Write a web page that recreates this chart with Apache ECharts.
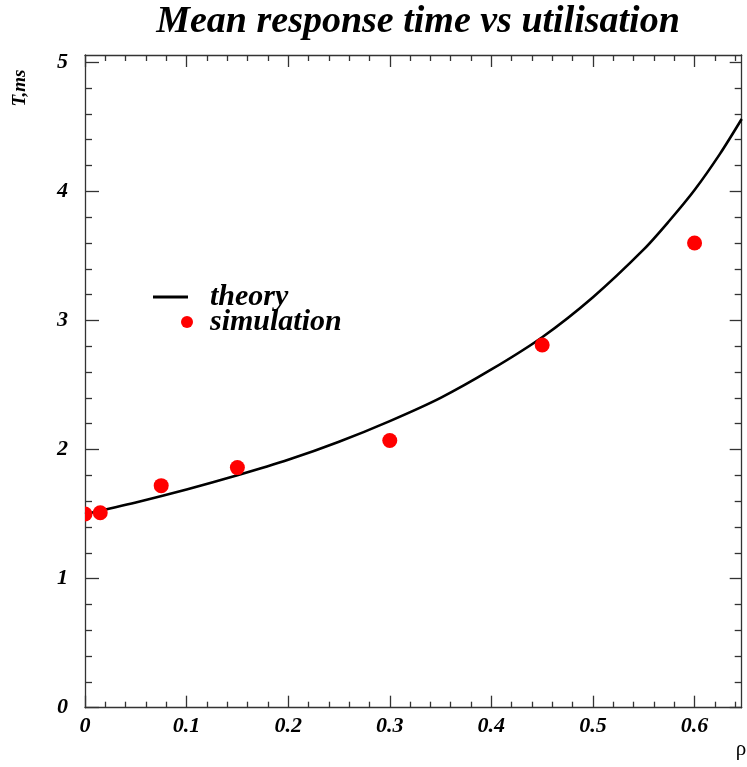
<!DOCTYPE html>
<html>
<head>
<meta charset="utf-8">
<script src="https://cdn.jsdelivr.net/npm/echarts@6/dist/echarts.min.js"></script>
<style>
html,body{margin:0;padding:0;background:#fff;}
#chart{width:747px;height:767px;}
</style>
</head>
<body>
<div id="chart"></div>
<script>
// ---- data ----
const theoryRho = [0, 0.05, 0.10, 0.15, 0.20, 0.25, 0.30, 0.35, 0.40, 0.45, 0.50, 0.55, 0.575, 0.60, 0.625, 0.6464];
const theoryT   = [1.50, 1.59, 1.69, 1.80, 1.92, 2.06, 2.22, 2.40, 2.62, 2.87, 3.18, 3.55, 3.77, 4.01, 4.29, 4.56];

const simRho = [0, 0.015, 0.075, 0.15, 0.30, 0.45, 0.60];
const simT   = [1.50, 1.51, 1.72, 1.86, 2.07, 2.81, 3.60];

const xMajorTicks = [0, 0.1, 0.2, 0.3, 0.4, 0.5, 0.6];
const xTickLabels = ['0', '0.1', '0.2', '0.3', '0.4', '0.5', '0.6'];
const xMinorTicks = [0.02, 0.04, 0.06, 0.08, 0.12, 0.14, 0.16, 0.18, 0.22, 0.24, 0.26, 0.28,
                     0.32, 0.34, 0.36, 0.38, 0.42, 0.44, 0.46, 0.48, 0.52, 0.54, 0.56, 0.58, 0.62, 0.64];
const yMajorTicks = [0, 1, 2, 3, 4, 5];
const yTickLabels = ['0', '1', '2', '3', '4', '5'];
const yMinorTicks = [0.2, 0.4, 0.6, 0.8, 1.2, 1.4, 1.6, 1.8, 2.2, 2.4, 2.6, 2.8,
                     3.2, 3.4, 3.6, 3.8, 4.2, 4.4, 4.6, 4.8];

const X_MIN = 0, X_MAX = 0.6464;
const Y_MIN = 0, Y_MAX = 5.056;

// ---- build ----
const FONT = 'Liberation Serif';
const AXIS_COLOR = '#333';

function labelFrom(ticks, labels) {
  return function (v) {
    for (let i = 0; i < ticks.length; i++) {
      if (Math.abs(ticks[i] - v) < 1e-9) return labels[i];
    }
    return '';
  };
}

function xAx(position, ticks, len, showLine, labels) {
  return {
    type: 'value', gridIndex: 0, position: position, min: X_MIN, max: X_MAX,
    axisLine: { show: showLine, onZero: false, lineStyle: { color: AXIS_COLOR, width: 1.3 } },
    axisTick: { show: true, inside: true, length: len, customValues: ticks, lineStyle: { color: AXIS_COLOR, width: 1.3 } },
    axisLabel: labels ? {
      show: true, customValues: ticks, formatter: labelFrom(ticks, labels), margin: 8,
      fontFamily: FONT, fontWeight: 'bold', fontStyle: 'italic', fontSize: 22, color: '#000'
    } : { show: false },
    splitLine: { show: false }
  };
}
function yAx(position, ticks, len, showLine, labels) {
  return {
    type: 'value', gridIndex: 0, position: position, min: Y_MIN, max: Y_MAX,
    axisLine: { show: showLine, onZero: false, lineStyle: { color: AXIS_COLOR, width: 1.3 } },
    axisTick: { show: true, inside: true, length: len, customValues: ticks, lineStyle: { color: AXIS_COLOR, width: 1.3 } },
    axisLabel: labels ? {
      show: true, customValues: ticks, formatter: labelFrom(ticks, labels), margin: 17,
      fontFamily: FONT, fontWeight: 'bold', fontStyle: 'italic', fontSize: 22, color: '#000'
    } : { show: false },
    splitLine: { show: false }
  };
}

const chart = echarts.init(document.getElementById('chart'), null, { renderer: 'canvas' });

const theoryData = theoryRho.map((r, i) => [r, theoryT[i]]);
const simData = simRho.map((r, i) => [r, simT[i]]);

chart.setOption({
  animation: false,
  backgroundColor: '#fff',
  title: {
    text: 'Mean response time vs utilisation',
    left: 413, top: -2, textAlign: 'center',
    textStyle: { fontFamily: FONT, fontWeight: 'bold', fontStyle: 'italic', fontSize: 38, color: '#000' }
  },
  grid: { left: 85, right: 5.3, top: 55, bottom: 59.3, containLabel: false, outerBoundsMode: 'none' },
  xAxis: [
    xAx('bottom', xMajorTicks, 12, true, xTickLabels),
    xAx('bottom', xMinorTicks, 6, false, null),
    xAx('top', xMajorTicks, 12, true, null),
    xAx('top', xMinorTicks, 6, false, null)
  ],
  yAxis: [
    yAx('left', yMajorTicks, 14, true, yTickLabels),
    yAx('left', yMinorTicks, 7, false, null),
    yAx('right', yMajorTicks, 12, true, null),
    yAx('right', yMinorTicks, 7, false, null)
  ],
  legend: [
    {
      data: [{ name: 'theory', icon: 'rect' }],
      left: 153, top: 282, itemWidth: 35, itemHeight: 3, orient: 'vertical', padding: 0,
      selectedMode: false,
      textStyle: { fontFamily: FONT, fontWeight: 'bold', fontStyle: 'italic', fontSize: 30, color: '#000', padding: [0, 0, 0, 17] }
    },
    {
      data: [{ name: 'simulation', icon: 'circle' }],
      left: 181, top: 307, itemWidth: 12, itemHeight: 12, orient: 'vertical', padding: 0,
      selectedMode: false,
      textStyle: { fontFamily: FONT, fontWeight: 'bold', fontStyle: 'italic', fontSize: 30, color: '#000', padding: [0, 0, 0, 12] }
    }
  ],
  graphic: [
    {
      type: 'text', x: 20, y: 88, rotation: Math.PI / 2,
      style: { text: 'T,ms', fontFamily: FONT, fontWeight: 'bold', fontStyle: 'italic', fontSize: 19, fill: '#000', align: 'center', verticalAlign: 'middle' }
    },
    {
      type: 'text', x: 741, y: 749,
      style: { text: 'ρ', fontFamily: FONT, fontSize: 21, fill: '#000', align: 'center', verticalAlign: 'middle' }
    }
  ],
  series: [
    {
      name: 'theory', type: 'line', xAxisIndex: 0, yAxisIndex: 0,
      data: theoryData, smooth: 0.3, showSymbol: false, symbol: 'none',
      color: '#000', lineStyle: { color: '#000', width: 2.6 }, clip: true, z: 3
    },
    {
      name: 'simulation', type: 'custom', xAxisIndex: 0, yAxisIndex: 0,
      data: simData, clip: true, color: '#ff0000', z: 4,
      renderItem: function (params, api) {
        const p = api.coord([api.value(0), api.value(1)]);
        return { type: 'circle', shape: { cx: p[0], cy: p[1], r: 7.5 }, style: { fill: '#ff0000' } };
      }
    }
  ]
});
</script>
</body>
</html>
